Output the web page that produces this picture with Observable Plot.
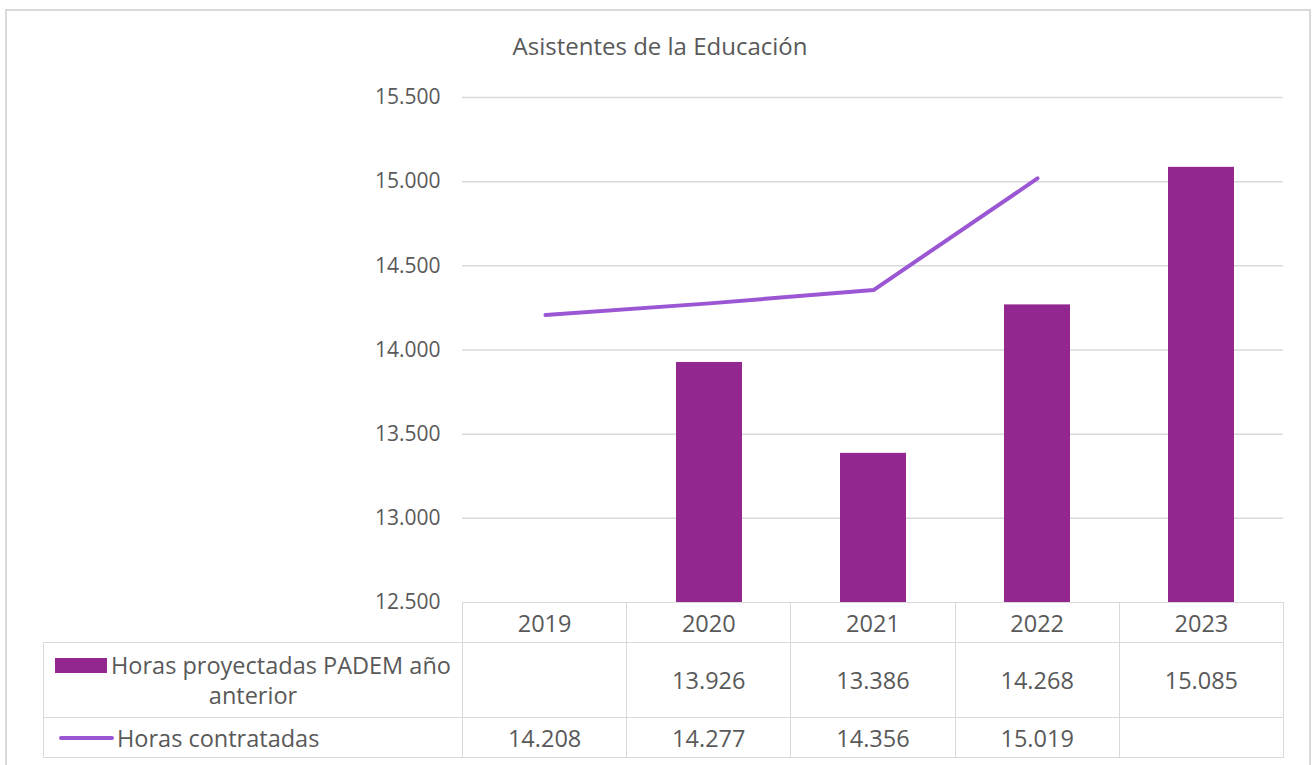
<!DOCTYPE html>
<html>
<head>
<meta charset="utf-8">
<script src="https://cdn.jsdelivr.net/npm/d3@7"></script>
<script src="https://cdn.jsdelivr.net/npm/@observablehq/plot@0.6"></script>
<style>
  html, body { margin: 0; padding: 0; background: #fff; }
  #wrap { position: relative; width: 1314px; height: 765px; overflow: hidden; font-family: "Open Sans", sans-serif; color: #595959; }
  #frame { position: absolute; left: 5px; top: 9px; width: 1306px; height: 800px; border: 2px solid #d9d9d9; box-sizing: border-box; }
  #title { position: absolute; left: 0; width: 1320px; top: 29px; text-align: center; font-size: 24px; }
  #chart { position: absolute; left: 0; top: 0; }
  .cell { position: absolute; box-sizing: border-box; border: 1px solid #d9d9d9; font-size: 23.5px; display: flex; align-items: center; justify-content: center; text-align: center; }
  .swatch-bar { display: inline-block; width: 52px; height: 15px; margin-right: 4px; vertical-align: 1px; }
  .swatch-line { display: inline-block; width: 55px; height: 4px; border-radius: 2px; margin-right: 3px; vertical-align: 6px; }
</style>
</head>
<body>
<div id="wrap">
  <div id="frame"></div>
  <div id="title"></div>
  <div id="chart"></div>
  <div id="table"></div>
</div>
<script>
const title = "Asistentes de la Educación";
const years = ["2019", "2020", "2021", "2022", "2023"];
const seriesNames = ["Horas proyectadas PADEM año anterior", "Horas contratadas"];
const projected = [null, 13926, 13386, 14268, 15085];
const contracted = [14208, 14277, 14356, 15019, null];
const yTicks = [12500, 13000, 13500, 14000, 14500, 15000, 15500];

const barColor = "#92278F";
const lineColor = "#9B57D3";
const fmt = n => n == null ? "" : d3.format(",")(n).replace(/,/g, ".");

document.getElementById("title").textContent = title;

const barData = years.map((year, i) => ({year, value: projected[i]})).filter(d => d.value != null);
const lineData = years.map((year, i) => ({year, value: contracted[i]})).filter(d => d.value != null);

const W = 1314, mL = 462, mR = 31, mT = 97, plotBottom = 602;
const H = 625;
const chart = Plot.plot({
  width: W,
  height: H,
  marginLeft: mL,
  marginRight: mR,
  marginTop: mT,
  marginBottom: H - plotBottom,
  style: {fontFamily: "'Open Sans', sans-serif", fontSize: "21px", color: "#595959", background: "transparent"},
  x: {domain: years, paddingInner: 0.6, paddingOuter: 0.3, axis: null},
  y: {domain: [yTicks[0], yTicks[yTicks.length - 1]], ticks: yTicks, tickFormat: fmt, tickSize: 0, tickPadding: 22, label: null},
  marks: [
    Plot.gridY(yTicks.slice(1), {stroke: "#d9d9d9", strokeOpacity: 1, strokeWidth: 1.5}),
    Plot.barY(barData, {x: "year", y1: yTicks[0], y2: "value", fill: barColor}),
    Plot.line(lineData, {x: "year", y: "value", stroke: lineColor, strokeWidth: 4, strokeLinecap: "round", strokeLinejoin: "round"})
  ]
});
document.getElementById("chart").appendChild(chart);

// Data table below the plot, aligned with the band scale
const table = document.getElementById("table");
const step = (W - mL - mR) / years.length;
function cell(left, top, width, height, html, extraStyle) {
  const d = document.createElement("div");
  d.className = "cell";
  Object.assign(d.style, {left: left + "px", top: top + "px", width: width + "px", height: height + "px"}, extraStyle || {});
  d.innerHTML = html;
  table.appendChild(d);
}
const rowTops = [plotBottom, 642, 717];
const rowHeights = [40, 75, 40];
years.forEach((y, i) => {
  const left = mL + i * step;
  cell(left, rowTops[0], step + 1, rowHeights[0] + 1, y);
  cell(left, rowTops[1], step + 1, rowHeights[1] + 1, fmt(projected[i]));
  cell(left, rowTops[2], step + 1, rowHeights[2] + 1, fmt(contracted[i]));
});
cell(43, rowTops[1], mL - 43 + 1, rowHeights[1] + 1,
  `<div style="width:410px;line-height:30px;"><span class="swatch-bar" style="background:${barColor}"></span>${seriesNames[0]}</div>`);
cell(43, rowTops[2], mL - 43 + 1, rowHeights[2] + 1,
  `<span class="swatch-line" style="background:${lineColor}"></span>${seriesNames[1]}`,
  {justifyContent: "flex-start", paddingLeft: "15px"});
</script>
</body>
</html>
